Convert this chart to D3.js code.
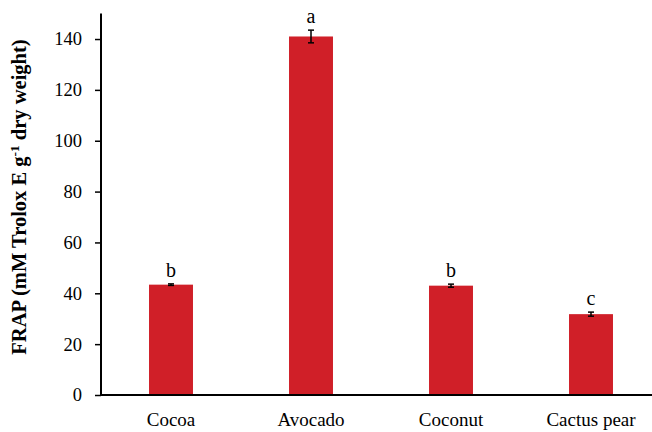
<!DOCTYPE html>
<html>
<head>
<meta charset="utf-8">
<script src="https://cdn.jsdelivr.net/npm/d3@7"></script>
<style>
  html, body { margin: 0; padding: 0; background: #fff; }
  svg { display: block; }
</style>
</head>
<body>
<svg id="chart" width="652" height="432"></svg>
<script>
// FRAP antioxidant capacity by seed/fruit source
const categories = ["Cocoa", "Avocado", "Coconut", "Cactus pear"];
const values = [43.4, 141.0, 43.0, 31.8];
const errors = [0.3, 2.5, 0.6, 0.8];
const letters = ["b", "a", "b", "c"];
const yTicks = [0, 20, 40, 60, 80, 100, 120, 140];

const svg = d3.select("#chart");
const font = "'Liberation Serif', 'DejaVu Serif', serif";

const x = d3.scaleBand().domain(categories).range([101, 661]).paddingInner(0.686).paddingOuter(0.343);
const y = d3.scaleLinear().domain([0, 150]).range([395, 13.6]);

// bars
svg.append("g").selectAll("rect").data(categories).join("rect")
  .attr("x", d => x(d))
  .attr("width", x.bandwidth())
  .attr("y", (d, i) => y(values[i]))
  .attr("height", (d, i) => y(0) - y(values[i]))
  .attr("fill", "#D01F28");

// error bars
const eb = svg.append("g").attr("stroke", "#000").attr("stroke-width", 1.5);
categories.forEach((c, i) => {
  const cx = x(c) + x.bandwidth() / 2;
  const top = y(values[i] + errors[i]), bot = y(values[i] - errors[i]);
  eb.append("line").attr("x1", cx).attr("x2", cx).attr("y1", top).attr("y2", bot);
  eb.append("line").attr("x1", cx - 3).attr("x2", cx + 3).attr("y1", top).attr("y2", top);
  eb.append("line").attr("x1", cx - 3).attr("x2", cx + 3).attr("y1", bot).attr("y2", bot);
});

// significance letters
svg.append("g").selectAll("text").data(categories).join("text")
  .attr("x", d => x(d) + x.bandwidth() / 2)
  .attr("y", (d, i) => y(values[i] + errors[i]) - 7)
  .attr("text-anchor", "middle")
  .attr("font-family", font)
  .attr("font-size", 20)
  .attr("fill", "#000")
  .text((d, i) => letters[i]);

// y axis
const yAxis = svg.append("g").attr("transform", "translate(101,0)")
  .call(d3.axisLeft(y).tickValues(yTicks).tickSize(6).tickPadding(13));
yAxis.select(".domain").attr("d", `M0,${y(150)}V${y(0)}`).attr("stroke-width", 2);
yAxis.selectAll(".tick line").attr("stroke-width", 1.5);
yAxis.selectAll(".tick text").attr("font-family", font).attr("font-size", 18.5).attr("fill", "#000");

// x axis
const xAxis = svg.append("g").attr("transform", `translate(0,${y(0)})`)
  .call(d3.axisBottom(x).tickSize(0).tickPadding(18));
xAxis.select(".domain").attr("d", `M100,0H661`).attr("stroke-width", 2);
xAxis.selectAll(".tick text").attr("font-family", font).attr("font-size", 19).attr("fill", "#000");

// y axis title
const title = svg.append("text")
  .attr("transform", "translate(26,197) rotate(-90)")
  .attr("text-anchor", "middle")
  .attr("font-family", font)
  .attr("font-weight", "bold")
  .attr("font-size", 20.5)
  .attr("fill", "#000");
title.append("tspan").text("FRAP (mM Trolox E g");
title.append("tspan").attr("baseline-shift", "super").attr("font-size", 13.5).text("-1");
title.append("tspan").text(" dry weight)");
</script>
</body>
</html>
